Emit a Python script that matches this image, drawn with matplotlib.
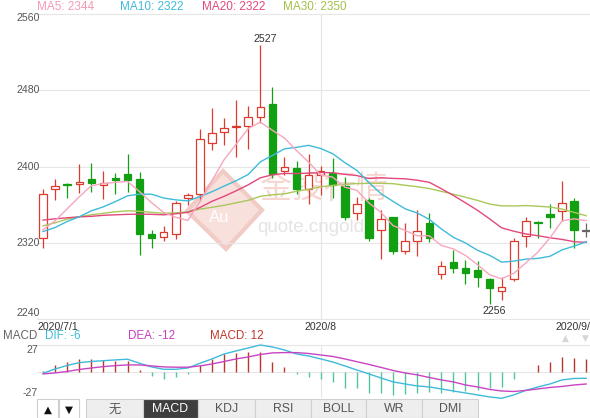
import matplotlib
matplotlib.use('Agg')
import matplotlib.pyplot as plt
from matplotlib.patches import Polygon, Rectangle
from matplotlib import transforms
import numpy as np

plt.rcParams['font.family'] = ['Liberation Sans', 'Noto Sans CJK SC', 'DejaVu Sans']

# ---------------- data ----------------
opens = [2324.5, 2376, 2382, 2381.5, 2386.7, 2380.8, 2387.8, 2392.6, 2386.7, 2329,
         2326.2, 2329, 2366.8, 2371, 2424.5, 2436.6, 2441.6, 2442.6, 2452.3, 2466,
         2395.4, 2398.6, 2376.2, 2391.2, 2393.6, 2379.7, 2351.7, 2364.7, 2333.6, 2346.5,
         2311.6, 2322, 2341.2, 2287.1, 2300, 2293.4, 2291.3, 2281.9, 2269.6, 2281.9,
         2327.3, 2342, 2350, 2353.5, 2364, 2332.5]
highs = [2376, 2387, 2382.5, 2402.5, 2403.5, 2395.4, 2393, 2413, 2394.7, 2333.3,
         2337.8, 2363.3, 2372.7, 2439.1, 2461.8, 2450.7, 2469.5, 2463.6, 2527, 2483.5,
         2410.4, 2405.9, 2413, 2400.7, 2409.4, 2389.1, 2368.5, 2366.8, 2354.5, 2347.5,
         2341.2, 2354.2, 2350.7, 2301.1, 2312.3, 2301.8, 2301.1, 2283, 2283.6, 2324.5,
         2347.2, 2343, 2360.5, 2385, 2366.8, 2340.2]
lows = [2314, 2365, 2367, 2372.7, 2373.7, 2365.8, 2371.6, 2373.4, 2307.4, 2315,
        2322, 2323.8, 2359.8, 2364, 2417.4, 2422.4, 2410.1, 2418.2, 2446, 2387.8,
        2390.9, 2371, 2360.5, 2370.3, 2366.8, 2344, 2344.1, 2322, 2302.9, 2308.7,
        2308.1, 2306.3, 2320.3, 2281.9, 2287.8, 2276.7, 2273.1, 2256, 2259.9, 2280.1,
        2315.8, 2324.9, 2336, 2343, 2314.4, 2326.2]
closes = [2371, 2380, 2381, 2384, 2383.2, 2382.3, 2386.3, 2386.3, 2329.7, 2325.5,
          2330.8, 2361.2, 2370, 2428.7, 2435.6, 2440.2, 2442.6, 2452, 2462.5, 2392.6,
          2400, 2376.9, 2390.9, 2395.4, 2380.8, 2347.5, 2360.5, 2324.9, 2345.4, 2311.6,
          2322, 2332.5, 2324.9, 2295.1, 2293, 2287.8, 2283.6, 2272.5, 2273.8, 2322,
          2342.3, 2340.6, 2347.2, 2362.2, 2333.3, 2332.5]

ma5 = [2333.6, 2343, 2355.6, 2368.2, 2379.8, 2382.1, 2383.4, 2384.4, 2373.6, 2362,
       2351.7, 2346.7, 2343.4, 2363.2, 2385.3, 2407.1, 2423.4, 2439.8, 2446.6, 2438,
       2429.9, 2416.8, 2404.6, 2391.2, 2388.8, 2378.3, 2375, 2361.8, 2351.8, 2338,
       2332.9, 2327.3, 2327.3, 2317.2, 2313.5, 2306.7, 2296.9, 2286.4, 2282.1, 2287.9,
       2298.8, 2310.2, 2325.2, 2342.9, 2345.1, 2343.2]
ma10 = [2331.8, 2336, 2342.3, 2347.2, 2353.5, 2357.7, 2363.2, 2369.2, 2371, 2370.9,
        2366.9, 2365.0, 2363.9, 2368.4, 2373.6, 2379.4, 2385.1, 2391.6, 2404.9, 2411.6,
        2418.5, 2420.1, 2422.2, 2418.9, 2413.4, 2404.1, 2395.9, 2383.2, 2371.5, 2363.4,
        2355.6, 2351.2, 2344.6, 2334.5, 2325.7, 2319.8, 2312.1, 2306.8, 2299.7, 2300.7,
        2302.8, 2303.6, 2305.8, 2312.5, 2316.5, 2321.0]
ma20 = [2343.8, 2345.1, 2346.2, 2347.2, 2347.7, 2348.8, 2349.3, 2349.8, 2350, 2349.8,
        2349.3, 2350.4, 2351.9, 2357, 2363.5, 2368.7, 2374.5, 2380.8, 2388.1, 2391.3,
        2392.7, 2392.6, 2393.1, 2393.6, 2393.5, 2391.8, 2390.5, 2387.4, 2388.2, 2387.5,
        2387.1, 2385.6, 2383.4, 2376.7, 2369.6, 2361.9, 2354.0, 2345.0, 2335.6, 2332.1,
        2329.2, 2327.4, 2325.2, 2323.5, 2321.1, 2320.4]
ma30 = [2337.8, 2340.9, 2344.8, 2347.2, 2349.3, 2350.9, 2352.5, 2353.5, 2353, 2351.9,
        2350.9, 2351.4, 2352.5, 2355.3, 2357.2, 2359.3, 2361.9, 2364.5, 2368.7, 2370.3,
        2371.3, 2374, 2376.1, 2378.7, 2380.2, 2381.3, 2382.1, 2382.3, 2382.3, 2382,
        2380.3, 2378.8, 2376.9, 2373.9, 2370.9, 2367.8, 2364.4, 2360.6, 2358.7, 2358.6,
        2359.0, 2358.3, 2357.5, 2355.3, 2351.9, 2348.3]

dif = [-1.6, 2.7, 6.3, 9.1, 10.3, 11.1, 11.9, 12.6, 8.5, 4.8,
       2.4, 2.4, 3.7, 8.5, 12.9, 17.9, 21, 24, 27, 25,
       22, 17.9, 15.9, 12.9, 9.8, 5.8, 1.7, -2.3, -6.4, -10.4,
       -12.5, -14.5, -15.5, -17.5, -19.6, -21.6, -23.6, -25.6, -27, -23.6,
       -19, -15.5, -12.5, -8.4, -6.9, -6.7]
dea = [-2.3, -1.3, 0.2, 2.2, 3.7, 5.1, 6.1, 6.8, 6.8, 5.8,
       4.8, 4.5, 4.5, 5.8, 7.8, 10.3, 12.9, 14.9, 17.4, 19,
       19.3, 19.3, 18.4, 16.9, 15.4, 12.9, 10.1, 7.3, 4.3, 1.2,
       -1.3, -3.3, -5.9, -8.4, -10.4, -13.5, -15.5, -18, -19.6, -20.1,
       -19, -17.5, -16, -15, -13.5, -12.5]
macd_hist = [0.6, 6.8, 10.1, 12.5, 12.5, 11.8, 11.1, 11.1, 1.5, -4.4,
             -7.7, -5, -2.4, 6.8, 12.5, 17.6, 18.6, 20.3, 19.6, 10.1,
             5.1, -2.5, -5.7, -7.7, -10.1, -16.9, -16.9, -21.3, -21.3, -23.6,
             -22.6, -21.9, -20.3, -21.9, -20.3, -19.3, -18.6, -16.9, -15.2, -7.7,
             0, 6.8, 10.1, 15.2, 14.2, 12.5]

price_ticks = [2240, 2320, 2400, 2480, 2560]
macd_ticks = [-27, 27]
date_labels = ['2020/7/1', '2020/8', '2020/9/2']
date_index = [0, 23, 45]
legend_labels = ['MA5: 2344', 'MA10: 2322', 'MA20: 2322', 'MA30: 2350']
macd_header = ['MACD', 'DIF: -6', 'DEA: -12', 'MACD: 12']
tab_labels = ['无', 'MACD', 'KDJ', 'RSI', 'BOLL', 'WR', 'DMI']

# ---------------- styling ----------------
RED = '#dd3a2e'
GREEN = '#12a012'
GRAY = '#666666'
C_MA5, C_MA10, C_MA20, C_MA30 = '#f6a6bd', '#3ebbd9', '#e2487c', '#a9c85a'
C_DIF, C_DEA = '#3ebbd9', '#c944c4'
H_RED, H_GREEN = '#b5372d', '#52c4a1'
GRID = '#e6e6e6'
TXT = '#555555'

W, H = 590, 418
fig = plt.figure(figsize=(W / 100, H / 100), dpi=100)
fig.patch.set_facecolor('white')

ov = fig.add_axes([0, 0, 1, 1], zorder=0)
ov.set_xlim(0, W)
ov.set_ylim(H, 0)
ov.axis('off')

STEP = 12.07
LEFT, RIGHT = 37, 590
xmin = -0.5
xmax = xmin + (RIGHT - LEFT) / STEP

# ---------------- watermark ----------------
ov.add_patch(Polygon([(223, 171), (262, 210), (226, 249), (187, 211)], closed=True,
                     fc='#f8e0dd', ec='#f1cbc6', lw=3))
ov.text(219, 217, 'Au', color='white', fontsize=12, ha='center', va='center')
ov.text(260, 189, '金投行情', color='#f5d6d1', fontsize=23, ha='left', va='center',
        family=['Noto Sans CJK SC', 'DejaVu Sans'])
ov.text(257, 227, 'quote.cngold', color='#e4e4e4', fontsize=13.5, ha='left', va='center')

# ---------------- main price axes ----------------
ax = fig.add_axes([LEFT / W, 1 - 319 / H, (RIGHT - LEFT) / W, 305 / H], zorder=2)
ax.set_xlim(xmin, xmax)
ax.set_ylim(price_ticks[0], price_ticks[-1])
ax.axis('off')
ax.patch.set_visible(False)

for v in price_ticks:
    ax.axhline(v, color=GRID, lw=0.8, zorder=0, clip_on=False)
ax.axvline(date_index[1], color=GRID, lw=0.8, zorder=0)

ytr = ax.get_yaxis_transform()
for v in price_ticks:
    dy = -4 if v == price_ticks[-1] else (6 if v == price_ticks[0] else 0)
    tr = transforms.offset_copy(ytr, fig=fig, x=2.5, y=dy, units='dots')
    ax.text(0, v, str(v), transform=tr, ha='right', va='center', fontsize=7.6,
            color=TXT, clip_on=False)

x = np.arange(len(closes))
o = np.array(opens)
c = np.array(closes)
hi = np.array(highs)
lo = np.array(lows)
up = c > o
down = c < o
cols = np.where(up, RED, np.where(down, GREEN, GRAY))
faces = np.where(up, 'white', cols)
ax.vlines(x, lo, hi, colors=cols, lw=0.9, zorder=3)
bottoms = np.minimum(o, c)
heights = np.maximum(np.abs(c - o), 0.7)
ax.bar(x, heights, bottom=bottoms, width=0.62, color=faces, edgecolor=cols,
       linewidth=0.9, zorder=4)

for series, col in [(ma30, C_MA30), (ma20, C_MA20), (ma10, C_MA10), (ma5, C_MA5)]:
    ax.plot(x, series, color=col, lw=1.0, zorder=5, solid_joinstyle='round')

imax = int(np.argmax(hi))
imin = int(np.argmin(lo))
ax.annotate(f'{hi[imax]:.0f}', xy=(imax, hi[imax]), xytext=(5, 6),
            textcoords='offset pixels', ha='center', va='center', fontsize=7.6,
            color='#333333', annotation_clip=False, zorder=6)
ax.annotate(f'{lo[imin]:.0f}', xy=(imin, lo[imin]), xytext=(5, -7),
            textcoords='offset pixels', ha='center', va='center', fontsize=7.6,
            color='#333333', annotation_clip=False, zorder=6)

xtr = ax.get_xaxis_transform()
ylab = -8 / 305
ax.text(xmin, ylab, date_labels[0], transform=xtr, ha='left', va='center',
        fontsize=7.6, color='#333333', clip_on=False)
ax.text(date_index[1], ylab, date_labels[1], transform=xtr, ha='center', va='center',
        fontsize=7.6, color='#333333', clip_on=False)
ax.annotate(date_labels[2], xy=(date_index[2], ylab), xycoords=xtr, xytext=(-10, 0),
            textcoords='offset pixels', ha='center', va='center', fontsize=7.6,
            color='#333333', annotation_clip=False)

# legend row
for xpos, lab, col in zip([37, 120, 202, 283], legend_labels,
                          ['#f49ab3', C_MA10, C_MA20, '#a2c24a']):
    ov.text(xpos, 7, lab, color=col, fontsize=8.5, ha='left', va='center')

# ---------------- MACD axes ----------------
ax2 = fig.add_axes([LEFT / W, 1 - 398.3 / H, (RIGHT - LEFT) / W, 53.3 / H], zorder=2)
ax2.set_xlim(xmin, xmax)
ax2.set_ylim(macd_ticks[0], macd_ticks[1])
ax2.axis('off')
ax2.patch.set_visible(False)
ax2.axhline(macd_ticks[1], color=GRID, lw=0.8, zorder=0, clip_on=False)
ax2.axhline(0, color=GRID, lw=0.8, zorder=0)
ax2.axvline(date_index[1], color=GRID, lw=0.8, zorder=0)

hv = np.array(macd_hist)
hcols = np.where(hv >= 0, H_RED, H_GREEN)
ax2.vlines(x, 0, hv, colors=hcols, lw=1.0, zorder=2)
ax2.plot(x, dif, color=C_DIF, lw=1.0, zorder=3, clip_on=False)
ax2.plot(x, dea, color=C_DEA, lw=1.0, zorder=3, clip_on=False)

ytr2 = ax2.get_yaxis_transform()
for v, dy in [(macd_ticks[1], -5), (macd_ticks[0], 5)]:
    tr = transforms.offset_copy(ytr2, fig=fig, x=1, y=dy, units='dots')
    ax2.text(0, v, str(v), transform=tr, ha='right', va='center', fontsize=7.6,
             color=TXT, clip_on=False)

for xpos, lab, col in zip([3, 45, 128, 210], macd_header,
                          ['#666666', C_DIF, '#c83fbf', '#c0392b']):
    ov.text(xpos, 336, lab, color=col, fontsize=8.4, ha='left', va='center')

ov.text(565, 338, '▲', color='#d6d6d6', fontsize=6.5, ha='center', va='center',
        family=['DejaVu Sans'])
ov.text(585, 338, '▼', color='#d6d6d6', fontsize=6.5, ha='center', va='center',
        family=['DejaVu Sans'])

# ---------------- bottom tab bar ----------------
TY = 399
ov.add_patch(Rectangle((37, TY), 21, H - TY, fc='white', ec='#cfcfcf', lw=0.8))
ov.add_patch(Rectangle((59, TY), 20, H - TY, fc='white', ec='#cfcfcf', lw=0.8))
ov.text(47.5, 409.5, '▲', fontsize=7.5, color='#111111', ha='center', va='center',
        family=['DejaVu Sans'])
ov.text(69, 409.5, '▼', fontsize=7.5, color='#111111', ha='center', va='center',
        family=['DejaVu Sans'])
edges = [86, 142.7, 198.3, 255, 310.7, 366, 422, 477.7]
for i, lab in enumerate(tab_labels):
    active = lab == 'MACD'
    ov.add_patch(Rectangle((edges[i], TY), edges[i + 1] - edges[i], H - TY,
                           fc='#3e3e3e' if active else '#eeeeee', ec='#d0d0d0', lw=0.8))
    ov.text((edges[i] + edges[i + 1]) / 2, 409.5, lab, fontsize=8.8,
            color='white' if active else '#555555', ha='center', va='center',
            family=['Liberation Sans', 'Noto Sans CJK SC', 'DejaVu Sans'])

fig.savefig('out.png', dpi=100, facecolor='white')
